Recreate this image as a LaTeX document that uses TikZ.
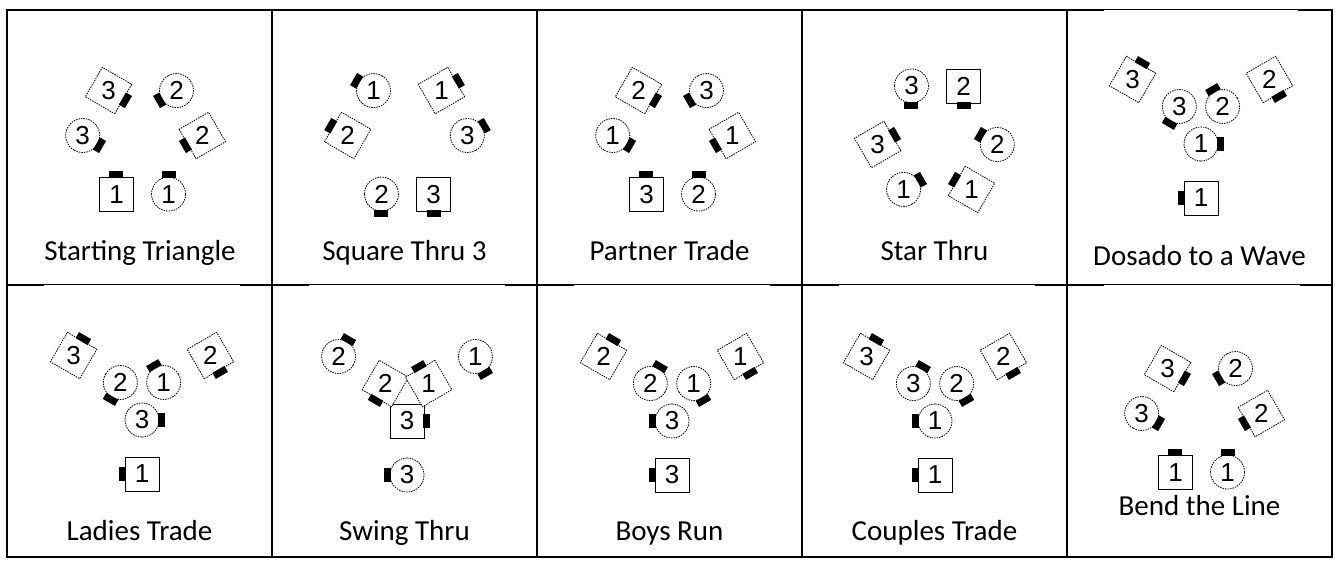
\documentclass[tikz,border=0pt]{standalone}
\usepackage{fontspec}
\setmainfont{Carlito}
\newfontfamily\digitfont{Liberation Sans}
\usetikzlibrary{positioning}

% dancers of one cell, around its centre: id/kind/number/angle/radius/facing
\newcommand{\placecrowd}[3]{%
    \begin{scope}[shift={(#2)}]
    \foreach \id/\kind/\nr/\ang/\rad/\face in {#3} {
        \pgfmathsetmacro{\nosex}{\rad*cos(\ang) + 19.5*cos(\face)}
        \pgfmathsetmacro{\nosey}{\rad*sin(\ang) + 19.5*sin(\face)}
        \node[\kind, rotate=\face-90] (#1-\id) at (\ang:\rad) {};
        \node[nose, rotate=\face-90] (#1-\id-n) at (\nosex,\nosey) {};
        \node[digit] (#1-\id-t) at (#1-\id) {\nr};
    }
    \end{scope}%
}

\begin{document}
\begin{tikzpicture}[
    x=1pt, y=1pt,
    font=\fontsize{29}{34}\selectfont,
    frame/.style={line width=2pt, line cap=rect},
    boy/.style={draw, rectangle, fill=white, line width=0.8pt, minimum size=34pt, inner sep=0pt},
    boyt/.style={boy, dash pattern=on 1.5pt off 1pt},
    girl/.style={draw, circle, fill=white, line width=0.8pt, minimum size=34pt, inner sep=0pt, dash pattern=on 1.5pt off 1pt},
    nose/.style={fill=black, minimum width=14pt, minimum height=7pt, inner sep=0pt},
    digit/.style={font=\digitfont\fontsize{26}{26}\selectfont, inner sep=0pt},
    callname/.style={anchor=base, inner sep=0pt}
]

\useasboundingbox (0,0) rectangle (1338,-560);

% table frame
\draw[frame] (7,-10) rectangle (1332,-557);
\foreach \gx in {272, 537, 802, 1067}
    \draw[frame] (\gx,-10) -- (\gx,-557);
\draw[frame] (7,-285) -- (1332,-285);

% the cell pictures cover the lower half of the rule
\foreach \gx in {142, 407, 672, 937, 1202}
    \draw[white, line width=1pt] (\gx-98,-285.5) -- (\gx+98,-285.5);
\draw[white, line width=1pt] (1104,-10.5) -- (1298,-10.5);

% triangle sets: couples on three sides, r = 60
\placecrowd{tri}{142.5,-140}{b1/boy/1/244.3/60/90, g1/girl/1/295.7/60/90, b2/boyt/2/4.3/60/210, g2/girl/2/55.5/60/210, b3/boyt/3/124.5/60/330, g3/girl/3/175.7/60/330}
\placecrowd{sqt}{407.5,-140}{g1/girl/1/124.5/60/150, b1/boyt/1/55.5/60/30, b2/boyt/2/175.7/60/150, g3/girl/3/4.3/60/30, g2/girl/2/244.3/60/270, b3/boy/3/295.7/60/270}
\placecrowd{ptr}{672.5,-140}{b2/boyt/2/124.5/60/330, g3/girl/3/55.5/60/210, g1/girl/1/175.7/60/330, b1/boyt/1/4.3/60/210, b3/boy/3/244.3/60/90, g2/girl/2/295.7/60/90}
\placecrowd{str}{937.5,-140}{g3/girl/3/115.7/60/270, b2/boy/2/64.3/60/270, b3/boyt/3/184.3/60/30, g1/girl/1/235.5/60/30, g2/girl/2/355.7/60/150, b1/boyt/1/304.5/60/150}
\placecrowd{bnd}{1201.5,-418}{b1/boy/1/244.3/60/90, g1/girl/1/295.7/60/90, b2/boyt/2/4.3/60/210, g2/girl/2/55.5/60/210, b3/boyt/3/124.5/60/330, g3/girl/3/175.7/60/330}

% three-way sets: one line on each spoke, at 25 and 79 from the centre
\placecrowd{dos}{1201,-119}{g1/girl/1/270/25/0, b1/boy/1/270/79/180, g3/girl/3/150/25/240, b3/boyt/3/150/79/60, g2/girl/2/30/25/120, b2/boyt/2/30/79/300}
\placecrowd{lad}{142,-395}{g3/girl/3/270/25/0, b1/boy/1/270/79/180, g2/girl/2/150/25/240, b3/boyt/3/150/79/60, g1/girl/1/30/25/120, b2/boyt/2/30/79/300}
\placecrowd{swt}{407,-396}{g3/girl/3/270/79/180, g2/girl/2/150/79/60, g1/girl/1/30/79/300, b3/boy/3/270/25/0, b2/boyt/2/150/25/240, b1/boyt/1/30/25/120}
\placecrowd{brn}{672,-396}{g3/girl/3/270/25/180, b3/boy/3/270/79/180, g2/girl/2/150/25/60, b2/boyt/2/150/79/60, g1/girl/1/30/25/300, b1/boyt/1/30/79/300}
\placecrowd{ctr}{935,-396}{g1/girl/1/270/25/180, b1/boy/1/270/79/180, g3/girl/3/150/25/60, b3/boyt/3/150/79/60, g2/girl/2/30/25/300, b2/boyt/2/30/79/300}

% call names under each set (baselines)
\foreach \cell/\lx/\ly/\callname in {tri/140/-260/Starting Triangle, sqt/404.5/-260/Square Thru 3,
        ptr/669.5/-260/Partner Trade, str/934.5/-260/Star Thru, dos/1199.5/-265/Dosado to a Wave,
        lad/139.5/-540/Ladies Trade, swt/404.5/-540/Swing Thru, brn/669.5/-540/Boys Run,
        ctr/934.5/-540/Couples Trade, bnd/1199.5/-515/Bend the Line}
    \node[callname] (\cell-lbl) at (\lx,\ly) {\callname};

\end{tikzpicture}
\end{document}
